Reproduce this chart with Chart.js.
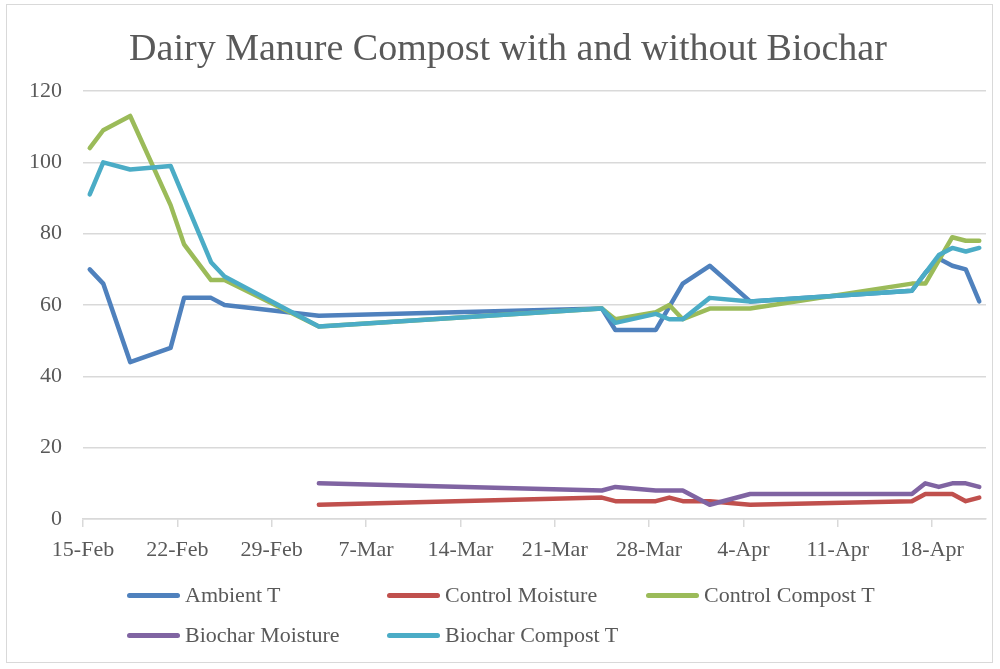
<!DOCTYPE html>
<html>
<head>
<meta charset="utf-8">
<script src="https://cdn.jsdelivr.net/npm/chart.js@4.4.1/dist/chart.umd.min.js"></script>
<style>
  html, body { margin: 0; padding: 0; background: #fff; }
  #wrap { position: relative; width: 1000px; height: 669px; overflow: hidden; }
  #frame { position: absolute; left: 6px; top: 4px; width: 987px; height: 659px; border: 1px solid #d9d9d9; box-sizing: border-box; }
  #title { position: absolute; left: 0; top: 24px; width: 1016px; text-align: center;
           font-family: "Liberation Serif", serif; font-size: 38px; line-height: 46px; color: #595959; }
  .item { position: absolute; height: 30px; display: flex; align-items: center;
          font-family: "Liberation Serif", serif; font-size: 22px; color: #595959; white-space: nowrap; }
  .swatch { width: 53px; height: 5px; border-radius: 3px; margin-right: 5px; }
  canvas { position: absolute; left: 0; top: 0; }
</style>
</head>
<body>
<div id="wrap">
  <div id="frame"></div>
  <canvas id="myChart" width="1000" height="669"></canvas>
  <div id="title">Dairy Manure Compost with and without Biochar</div>
  <div id="legend"></div>
</div>
<script>
// day 0 = 15-Feb (2016), one point per measurement day
var days = [0, 1, 3, 6, 7, 9, 10, 17, 38, 39, 42, 43, 44, 46, 49, 61, 62, 63, 64, 65, 66];
var ambientT        = [70, 66, 44, 48, 62, 62, 60, 57, 59, 53, 53, null, 66, 71, 61, 64, 69, 73, 71, 70, 61];
var controlMoisture = [null, null, null, null, null, null, null, 4, 6, 5, 5, 6, 5, 5, 4, 5, 7, 7, 7, 5, 6];
var controlCompostT = [104, 109, 113, 88, 77, 67, 67, 54, 59, 56, 58, 60, 56, 59, 59, 66, 66, null, 79, 78, 78];
var biocharMoisture = [null, null, null, null, null, null, null, 10, 8, 9, 8, 8, 8, 4, 7, 7, 10, 9, 10, 10, 9];
var biocharCompostT = [91, 100, 98, 99, null, 72, 68, 54, 59, 55, 57.5, 56, 56, 62, 61, 64, null, 74, 76, 75, 76];

var tickLabels = ['15-Feb', '22-Feb', '29-Feb', '7-Mar', '14-Mar', '21-Mar', '28-Mar', '4-Apr', '11-Apr', '18-Apr'];
var yTicks = [0, 20, 40, 60, 80, 100, 120];

function pts(values) {
    return days.map(function (d, i) { return { x: d, y: values[i] }; });
}

var series = [
    { label: 'Ambient T', data: ambientT, color: '#4F81BD' },
    { label: 'Control Moisture', data: controlMoisture, color: '#C0504D' },
    { label: 'Control Compost T', data: controlCompostT, color: '#9BBB59' },
    { label: 'Biochar Moisture', data: biocharMoisture, color: '#8064A2' },
    { label: 'Biochar Compost T', data: biocharCompostT, color: '#4BACC6' }
];

var font = { family: '"Liberation Serif", serif', size: 22 };

var ctx = document.getElementById('myChart').getContext('2d');
var myChart = new Chart(ctx, {
    type: 'line',
    data: {
        datasets: series.map(function (s, i) {
            return {
                label: s.label,
                data: pts(s.data),
                borderColor: s.color,
                backgroundColor: s.color,
                borderWidth: 4.5,
                pointRadius: 0,
                tension: 0,
                spanGaps: true,
                borderCapStyle: 'round',
                borderJoinStyle: 'round',
                order: series.length - i
            };
        })
    },
    options: {
        responsive: false,
        animation: false,
        layout: { padding: { top: 91, right: 14, bottom: 90, left: 0 } },
        plugins: {
            legend: { display: false },
            title: { display: false },
            tooltip: { enabled: false }
        },
        scales: {
            x: {
                type: 'linear',
                min: -0.5,
                max: 66.5,
                afterBuildTicks: function (scale) {
                    scale.ticks = tickLabels.map(function (l, i) { return { value: -0.5 + 7 * i }; });
                },
                afterFit: function (scale) { scale.height = 60; },
                ticks: {
                    autoSkip: false,
                    maxRotation: 0,
                    padding: 10,
                    color: '#595959',
                    font: font,
                    callback: function (v, i) { return tickLabels[i]; }
                },
                grid: { drawOnChartArea: false, drawTicks: true, tickLength: 8, color: '#d9d9d9', lineWidth: 1.5 },
                border: { display: true, color: '#d9d9d9', width: 1.5 }
            },
            y: {
                min: 0,
                max: 120,
                afterBuildTicks: function (scale) {
                    scale.ticks = yTicks.map(function (v) { return { value: v }; });
                },
                afterFit: function (scale) { scale.width = 83; },
                ticks: { padding: 21, color: '#595959', font: font },
                grid: { drawTicks: false, color: '#d9d9d9', lineWidth: 1.5 },
                border: { display: false }
            }
        }
    }
});

// legend laid out like the original: three columns, two rows
var cols = [127, 387, 646];
var rows = [580, 620];
var legend = document.getElementById('legend');
series.forEach(function (s, i) {
    var item = document.createElement('div');
    item.className = 'item';
    item.style.left = cols[i % 3] + 'px';
    item.style.top = rows[Math.floor(i / 3)] + 'px';
    item.innerHTML = '<span class="swatch" style="background:' + s.color + '"></span>' + s.label;
    legend.appendChild(item);
});
</script>
</body>
</html>
